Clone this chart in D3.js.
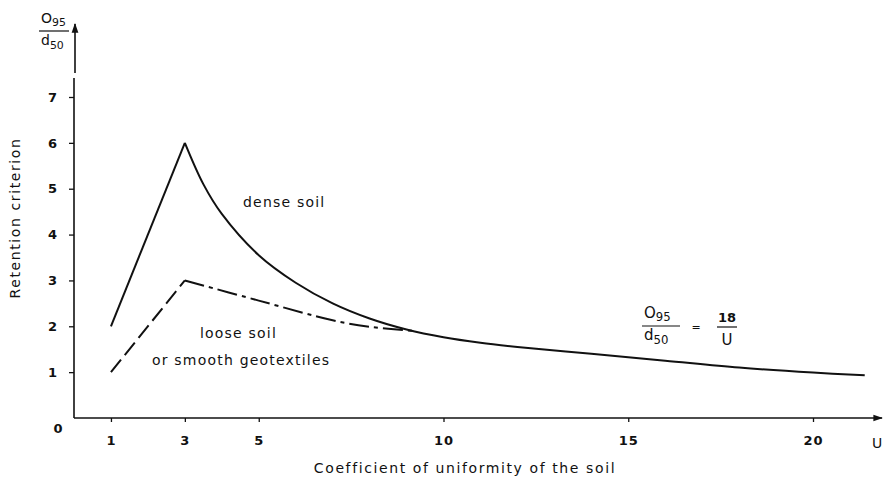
<!DOCTYPE html>
<html><head><meta charset="utf-8">
<script src="https://cdn.jsdelivr.net/npm/d3@7"></script>
<style>
body{margin:0;background:#fff}
svg{display:block}
text{font-family:"DejaVu Sans",sans-serif;fill:#111}
</style>
</head><body><svg id="c" width="885" height="479"></svg>
<script>
// ---- data ----
const uTicks = [1, 3, 5, 10, 15, 20];
const yTicks = [1, 2, 3, 4, 5, 6, 7];
const denseRiseU = [1, 3];
const denseRiseV = [2, 6];
const denseFallU = [3, 3.5, 4, 5, 6, 7, 8, 9, 10, 11, 12, 14, 16, 18, 20, 21.4];
const denseFallV = [6, 5.1, 4.45, 3.55, 2.95, 2.5, 2.17, 1.93, 1.76, 1.64, 1.55, 1.4, 1.25, 1.1, 0.99, 0.93];
const looseRiseU = [1, 3];
const looseRiseV = [1, 3];
const looseFallU = [3, 5, 7, 8, 9.2];
const looseFallV = [3, 2.56, 2.13, 1.99, 1.9];

const svg = d3.select("#c");
const x = d3.scaleLinear().domain([0, 20]).range([74, 813]);
const y = d3.scaleLinear().domain([0, 7]).range([418, 97]);
const ink = "#111";

// arrow marker
svg.append("defs").append("marker")
  .attr("id", "arr").attr("viewBox", "0 0 10 10").attr("refX", 9).attr("refY", 5)
  .attr("markerWidth", 6).attr("markerHeight", 6).attr("orient", "auto-start-reverse")
  .append("path").attr("d", "M0,1.5L10,5L0,8.5Z").attr("fill", ink);

// x axis
const gx = svg.append("g").attr("transform", `translate(0,${y(0)})`)
  .call(d3.axisBottom(x).tickValues(uTicks).tickSize(4).tickPadding(14).tickFormat(d3.format("d")));
gx.select(".domain").remove();
gx.selectAll(".tick line").attr("stroke", ink).attr("stroke-width", 1.3);
gx.selectAll(".tick text").attr("font-size", 13).attr("font-weight", "bold").attr("letter-spacing", 1)
  .attr("font-family", "DejaVu Sans").attr("fill", ink);
svg.append("line").attr("x1", x(0)).attr("x2", 882).attr("y1", y(0)).attr("y2", y(0))
  .attr("stroke", ink).attr("stroke-width", 1.6).attr("marker-end", "url(#arr)");

// y axis
const gy = svg.append("g").attr("transform", `translate(${x(0)},0)`)
  .call(d3.axisLeft(y).tickValues(yTicks).tickSize(5).tickPadding(12).tickFormat(d3.format("d")));
gy.select(".domain").remove();
gy.selectAll(".tick line").attr("stroke", ink).attr("stroke-width", 1.3);
gy.selectAll(".tick text").attr("font-size", 13).attr("font-weight", "bold")
  .attr("font-family", "DejaVu Sans").attr("fill", ink);
svg.append("line").attr("x1", x(0)).attr("x2", x(0)).attr("y1", y(0)).attr("y2", 78)
  .attr("stroke", ink).attr("stroke-width", 1.6);
svg.append("line").attr("x1", x(0) + 1).attr("x2", x(0) + 1).attr("y1", 73).attr("y2", 24)
  .attr("stroke", ink).attr("stroke-width", 1.6).attr("marker-end", "url(#arr)");

// zero and U labels
svg.append("text").attr("x", 58).attr("y", 433).attr("text-anchor", "middle")
  .attr("font-size", 13).attr("font-weight", "bold").text("0");
svg.append("text").attr("x", 877).attr("y", 448).attr("text-anchor", "middle")
  .attr("font-size", 14).text("U");

// axis titles
svg.append("text").attr("x", 465).attr("y", 473).attr("text-anchor", "middle")
  .attr("font-size", 14).attr("letter-spacing", 1.6)
  .text("Coefficient of uniformity of the soil");
svg.append("text").attr("transform", "translate(20,218) rotate(-90)").attr("text-anchor", "middle")
  .attr("font-size", 14).attr("letter-spacing", 1.6).text("Retention criterion");

// fraction O95/d50
function frac(g, cx, topY, bar, fs) {
  const t1 = g.append("text").attr("x", cx).attr("y", topY).attr("font-size", fs);
  t1.append("tspan").text("O");
  t1.append("tspan").attr("font-size", fs * 0.78).attr("dy", 3).text("95");
  g.append("line").attr("x1", cx - 2).attr("x2", cx + bar).attr("y1", topY + 8).attr("y2", topY + 8)
    .attr("stroke", ink).attr("stroke-width", 1.2);
  const t2 = g.append("text").attr("x", cx).attr("y", topY + 22).attr("font-size", fs);
  t2.append("tspan").text("d");
  t2.append("tspan").attr("font-size", fs * 0.78).attr("dy", 4).text("50");
}
frac(svg.append("g"), 41, 23, 28, 14);
const fg = svg.append("g");
frac(fg, 644, 318, 36, 15);
fg.append("text").attr("x", 696).attr("y", 331).attr("text-anchor", "middle").attr("font-size", 11).text("=");
fg.append("text").attr("x", 727).attr("y", 322).attr("text-anchor", "middle").attr("font-size", 13).attr("font-weight", "bold").text("18");
fg.append("line").attr("x1", 717).attr("x2", 737).attr("y1", 327).attr("y2", 327).attr("stroke", ink).attr("stroke-width", 1.2);
fg.append("text").attr("x", 727).attr("y", 345).attr("text-anchor", "middle").attr("font-size", 15).text("U");

// curves
const lin = d3.line().x(d => x(d[0])).y(d => y(d[1]));
const smooth = d3.line().x(d => x(d[0])).y(d => y(d[1])).curve(d3.curveCatmullRom.alpha(0.5));
const zip = (a, b) => a.map((v, i) => [v, b[i]]);

svg.append("path").attr("d", lin(zip(denseRiseU, denseRiseV)))
  .attr("fill", "none").attr("stroke", ink).attr("stroke-width", 2);
svg.append("path").attr("d", smooth(zip(denseFallU, denseFallV)))
  .attr("fill", "none").attr("stroke", ink).attr("stroke-width", 2);
svg.append("path").attr("d", lin(zip(looseRiseU, looseRiseV)))
  .attr("fill", "none").attr("stroke", ink).attr("stroke-width", 2).attr("stroke-dasharray", "16,6");
svg.append("path").attr("d", smooth(zip(looseFallU, looseFallV)))
  .attr("fill", "none").attr("stroke", ink).attr("stroke-width", 2).attr("stroke-dasharray", "20,5,4,5");

// curve labels
svg.append("text").attr("x", 243).attr("y", 207).attr("font-size", 14).attr("letter-spacing", 1.2).text("dense soil");
svg.append("text").attr("x", 200).attr("y", 338).attr("font-size", 14).attr("letter-spacing", 1.2).text("loose soil");
svg.append("text").attr("x", 152).attr("y", 365).attr("font-size", 14).attr("letter-spacing", 1.2).text("or smooth geotextiles");
</script>
</body></html>
